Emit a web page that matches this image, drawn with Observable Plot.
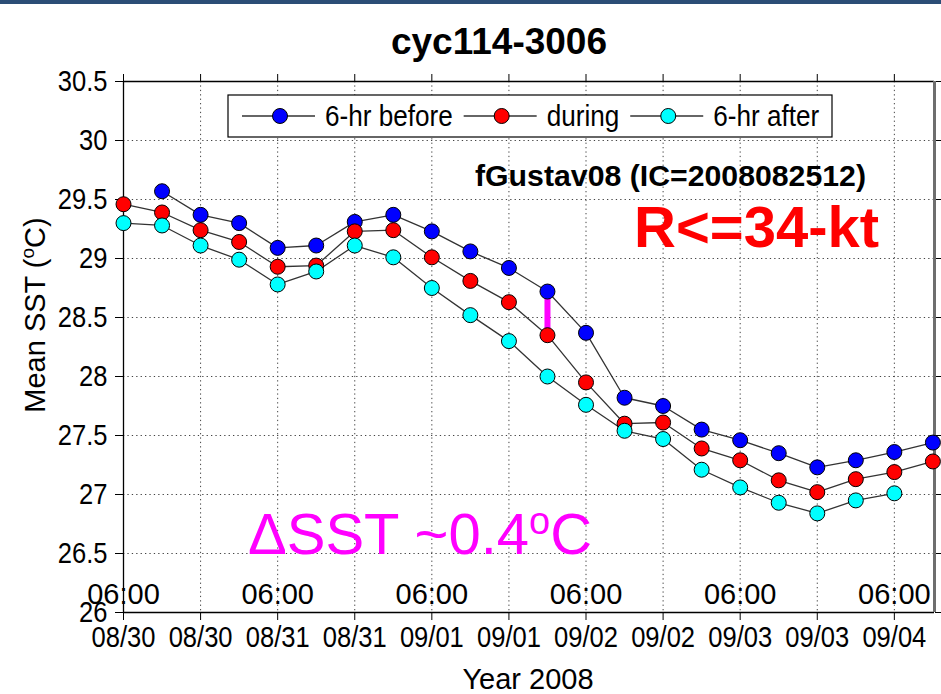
<!DOCTYPE html>
<html>
<head>
<meta charset="utf-8">
<script src="https://cdn.jsdelivr.net/npm/d3@7"></script>
<script src="https://cdn.jsdelivr.net/npm/@observablehq/plot@0.6"></script>
<style>
  html, body { margin: 0; padding: 0; background: #fff; }
  #wrap { position: relative; width: 941px; height: 694px; overflow: hidden; }
  #bar { position: absolute; left: 0; top: 0; width: 941px; height: 4px; background: #2b4d76; }
  #chart { position: absolute; left: 0; top: 0; }
</style>
</head>
<body>
<div id="wrap"><div id="chart"></div><div id="bar"></div></div>
<script>
// Six-hourly analysis times (UTC)
const times = [
  "2008-08-30 06:00", "2008-08-30 12:00", "2008-08-30 18:00",
  "2008-08-31 00:00", "2008-08-31 06:00", "2008-08-31 12:00", "2008-08-31 18:00",
  "2008-09-01 00:00", "2008-09-01 06:00", "2008-09-01 12:00", "2008-09-01 18:00",
  "2008-09-02 00:00", "2008-09-02 06:00", "2008-09-02 12:00", "2008-09-02 18:00",
  "2008-09-03 00:00", "2008-09-03 06:00", "2008-09-03 12:00", "2008-09-03 18:00",
  "2008-09-04 00:00", "2008-09-04 06:00", "2008-09-04 12:00"
];

// Mean SST (°C) within R<=34-kt
const sstBefore = [null, 29.57, 29.37, 29.30, 29.09, 29.11, 29.31, 29.37, 29.23, 29.06, 28.92,
  28.72, 28.37, 27.82, 27.75, 27.55, 27.46, 27.35, 27.23, 27.29, 27.36, 27.44];
const sstDuring = [29.46, 29.39, 29.24, 29.14, 28.93, 28.94, 29.23, 29.24, 29.01, 28.81, 28.63,
  28.35, 27.95, 27.60, 27.61, 27.39, 27.29, 27.12, 27.02, 27.13, 27.19, 27.28];
const sstAfter = [29.30, 29.28, 29.11, 28.99, 28.78, 28.89, 29.11, 29.01, 28.75, 28.52, 28.30,
  28.00, 27.76, 27.54, 27.47, 27.21, 27.06, 26.93, 26.84, 26.95, 27.01, null];

const seriesNames = ["6-hr before", "during", "6-hr after"];
const seriesColors = ["#0000ff", "#ff0000", "#00ffff"];

// Axis ticks
const yTicks = [26, 26.5, 27, 27.5, 28, 28.5, 29, 29.5, 30, 30.5];
const xTickTimes = [
  "2008-08-30 06:00", "2008-08-30 18:00", "2008-08-31 06:00", "2008-08-31 18:00",
  "2008-09-01 06:00", "2008-09-01 18:00", "2008-09-02 06:00", "2008-09-02 18:00",
  "2008-09-03 06:00", "2008-09-03 18:00", "2008-09-04 06:00"
];
const xTickLabels = ["08/30", "08/30", "08/31", "08/31", "09/01", "09/01",
  "09/02", "09/02", "09/03", "09/03", "09/04"];
const hourLabelTimes = ["2008-08-30 06:00", "2008-08-31 06:00", "2008-09-01 06:00",
  "2008-09-02 06:00", "2008-09-03 06:00", "2008-09-04 06:00"];
const hourLabel = "06:00";
const xDomain = ["2008-08-30 06:00", "2008-09-04 12:15"];
const yDomain = [26, 30.5];

// Highlighted cooling step
const highlightIndex = 11;

const titleText = "cyc114-3006";
const stormText = "fGustav08 (IC=2008082512)";
const radiusText = "R<=34-kt";
const xLabel = "Year 2008";

const parse = d3.utcParse("%Y-%m-%d %H:%M");
const font = "'Liberation Sans', Arial, Helvetica, sans-serif";

const allSeries = [sstBefore, sstDuring, sstAfter];
const rows = allSeries.flatMap((vals, s) =>
  times.map((t, i) => ({ time: parse(t), value: vals[i], series: seriesNames[s] }))
       .filter(d => d.value != null)
);
const xTicks = xTickTimes.map(parse);
const tickLabelByTime = new Map(xTicks.map((t, i) => [+t, xTickLabels[i]]));
const hourTicks = hourLabelTimes.map(parse);
const highlight = [{
  time: parse(times[highlightIndex]),
  lo: sstDuring[highlightIndex],
  hi: sstBefore[highlightIndex]
}];

const grid = { stroke: "#444", strokeOpacity: 1, strokeWidth: 1, strokeDasharray: "1.3,3.1" };

const chart = Plot.plot({
  width: 941,
  height: 694,
  marginTop: 81,
  marginBottom: 82,
  marginLeft: 123,
  marginRight: 7,
  style: { fontFamily: font, fontSize: "29px", color: "#000", background: "transparent", overflow: "visible" },
  x: { type: "utc", domain: xDomain.map(parse) },
  y: { domain: yDomain },
  color: { domain: seriesNames, range: seriesColors },
  marks: [
    Plot.gridX(xTicks, grid),
    Plot.gridY(yTicks, grid),
    Plot.axisX(xTicks, { anchor: "bottom", tickSize: 8, tickPadding: 6, fontSize: 29, label: null,
      tickFormat: d => tickLabelByTime.get(+d), stroke: "#000", ariaLabel: "x-axis" }),
    Plot.axisX(xTicks, { anchor: "top", tickSize: 8, label: null, tickFormat: () => "", stroke: "#000" }),
    Plot.axisY(yTicks, { anchor: "left", tickSize: 8, tickPadding: 8, fontSize: 29, label: null,
      tickFormat: d => String(d), stroke: "#000", ariaLabel: "y-axis" }),
    Plot.axisY(yTicks, { anchor: "right", tickSize: 7, label: null, tickFormat: () => "", stroke: "#000" }),
    Plot.ruleY([yDomain[0]], { stroke: "#000", strokeWidth: 1.3 }),
    Plot.ruleY([yDomain[1]], { stroke: "#000", strokeWidth: 1.3 }),
    Plot.ruleX([parse(xDomain[0])], { stroke: "#000", strokeWidth: 1.3 }),
    Plot.ruleX([parse(xDomain[1])], { stroke: "#6e6e6e", strokeWidth: 3 }),
    Plot.text(hourTicks, { x: d => d, text: () => hourLabel, frameAnchor: "bottom",
      lineAnchor: "bottom", dy: -9, fontSize: 29, fill: "#000", ariaLabel: "hour labels" }),
    Plot.ruleX(highlight, { x: "time", y1: "lo", y2: "hi", stroke: "#ff00ff", strokeWidth: 6 }),
    Plot.line(rows, { x: "time", y: "value", z: "series", stroke: "#333", strokeWidth: 1.3 }),
    Plot.dot(rows, { x: "time", y: "value", fill: "series", r: 7.5, stroke: "#000", strokeWidth: 1 })
  ]
});

document.getElementById("chart").appendChild(chart);
const svg = d3.select(chart);

// MATLAB-style narrow tick lettering
function squeeze(node, k) {
  const w = node.getComputedTextLength();
  if (w > 0) {
    node.setAttribute("textLength", (w * k).toFixed(1));
    node.setAttribute("lengthAdjust", "spacingAndGlyphs");
  }
}
svg.selectAll('g[aria-label="x-axis tick label"] text, g[aria-label="y-axis tick label"] text, g[aria-label="hour labels"] text')
  .each(function () { squeeze(this, 0.88); });

const overlay = svg.append("g").attr("font-family", font).attr("text-anchor", "start");

// Title
overlay.append("text")
  .attr("x", 499).attr("y", 54)
  .attr("text-anchor", "middle")
  .attr("font-size", 37).attr("font-weight", "bold")
  .attr("fill", "#000")
  .text(titleText);

// Axis labels
overlay.append("text")
  .attr("x", 528).attr("y", 689)
  .attr("text-anchor", "middle")
  .attr("font-size", 29)
  .text(xLabel);

const yl = overlay.append("text")
  .attr("transform", "translate(45,315) rotate(-90)")
  .attr("text-anchor", "middle")
  .attr("font-size", 29);
yl.append("tspan").text("Mean SST (");
yl.append("tspan").attr("font-size", 19).attr("dy", -11).text("o");
yl.append("tspan").attr("dy", 11).text("C)");

// Legend
const lg = overlay.append("g");
lg.append("rect")
  .attr("x", 228).attr("y", 95).attr("width", 604).attr("height", 42)
  .attr("fill", "#fff").attr("stroke", "#000").attr("stroke-width", 1.2);
let lx = 242;
const ly = 116;
seriesNames.forEach((name, i) => {
  lg.append("line").attr("x1", lx).attr("x2", lx + 73).attr("y1", ly).attr("y2", ly)
    .attr("stroke", "#333").attr("stroke-width", 1.3);
  lg.append("circle").attr("cx", lx + 38).attr("cy", ly).attr("r", 7.5)
    .attr("fill", seriesColors[i]).attr("stroke", "#000");
  const t = lg.append("text").attr("x", lx + 83).attr("y", ly + 10)
    .attr("text-anchor", "start")
    .attr("font-size", 29).text(name);
  const w = t.node().getComputedTextLength();
  squeeze(t.node(), 0.9);
  lx = lx + 83 + w * 0.9 + 11;
});

// Annotations
const storm = overlay.append("text")
  .attr("x", 475).attr("y", 186)
  .attr("text-anchor", "start")
  .attr("font-size", 29).attr("font-weight", "bold")
  .text(stormText);
storm.attr("textLength", 391).attr("lengthAdjust", "spacingAndGlyphs");

overlay.append("text")
  .attr("x", 634).attr("y", 247)
  .attr("text-anchor", "start")
  .attr("font-size", 58).attr("font-weight", "bold")
  .attr("fill", "#ff0000")
  .text(radiusText);

const ds = overlay.append("text")
  .attr("x", 248).attr("y", 554)
  .attr("text-anchor", "start")
  .attr("font-size", 58)
  .attr("fill", "#ff00ff");
ds.append("tspan").text("\u0394SST ~" + (sstBefore[highlightIndex] - sstDuring[highlightIndex]).toFixed(1));
ds.append("tspan").attr("font-size", 38).attr("dy", -20).text("o");
ds.append("tspan").attr("dy", 20).text("C");
</script>
</body>
</html>
